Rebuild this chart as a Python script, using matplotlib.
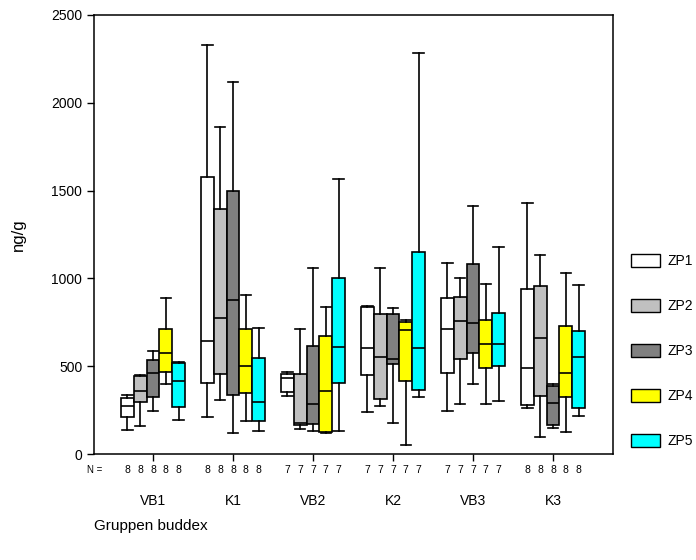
import matplotlib
matplotlib.use('Agg')
import matplotlib.pyplot as plt
from matplotlib.patches import Patch
from matplotlib.transforms import blended_transform_factory

plt.rcParams['font.family'] = ['Liberation Sans', 'DejaVu Sans']

groups = ['VB1', 'K1', 'VB2', 'K2', 'VB3', 'K3']
series = ['ZP1', 'ZP2', 'ZP3', 'ZP4', 'ZP5']
colors = ['#FFFFFF', '#C0C0C0', '#808080', '#FFFF00', '#00FFFF']
n_counts = [8, 8, 7, 7, 7, 8]

# per series: one (whisker low, q1, median, q3, whisker high) per group
zp1 = [(137, 213, 275, 317, 336), (213, 406, 644, 1579, 2329), (330, 351, 435, 456, 465),
       (241, 450, 602, 835, 843), (247, 459, 712, 887, 1086), (260, 279, 488, 938, 1428)]
zp2 = [(159, 298, 361, 444, 450), (308, 456, 773, 1393, 1864), (140, 165, 178, 456, 712),
       (275, 311, 554, 797, 1061), (285, 539, 757, 892, 1000), (95, 330, 662, 957, 1133)]
zp3 = [(247, 326, 459, 535, 588), (118, 336, 877, 1500, 2120), (130, 171, 285, 615, 1061),
       (175, 512, 539, 797, 833), (397, 573, 744, 1080, 1412), (146, 165, 292, 387, 397)]
zp4 = [(397, 469, 573, 712, 887), (188, 345, 501, 712, 904), (120, 125, 361, 674, 835),
       (50, 416, 706, 753, 765), (285, 488, 625, 763, 966), (127, 323, 459, 729, 1029)]
zp5 = [(194, 266, 416, 518, 526), (130, 188, 298, 545, 719), (130, 406, 608, 1000, 1566),
       (326, 364, 602, 1148, 2285), (302, 501, 625, 801, 1177), (216, 262, 550, 700, 960)]
data = [zp1, zp2, zp3, zp4, zp5]

fig = plt.figure(figsize=(6.96, 5.6), dpi=100)
ax = fig.add_axes([94/696, 1-454/560, (613-94)/696, (454-15)/560])

width = 0.16
for k, ser in enumerate(data):
    stats = []
    pos = []
    for g, (lo, q1, med, q3, hi) in enumerate(ser):
        stats.append({'whislo': lo, 'q1': q1, 'med': med, 'q3': q3, 'whishi': hi, 'fliers': []})
        pos.append(g + (k - 2) * width)
    ax.bxp(stats, positions=pos, widths=width, capwidths=0.13, patch_artist=True,
           showfliers=False, manage_ticks=False,
           boxprops=dict(facecolor=colors[k], edgecolor='black', linewidth=1.2),
           medianprops=dict(color='black', linewidth=1.2),
           whiskerprops=dict(color='black', linewidth=1.2),
           capprops=dict(color='black', linewidth=1.2))

ax.set_xlim(-0.7375, 5.75)
ax.set_ylim(0, 2500)
ax.set_yticks([0, 500, 1000, 1500, 2000, 2500])
ax.set_xticks(range(len(groups)))
ax.set_xticklabels(groups)
ax.tick_params(axis='x', length=5, width=1, pad=24, labelsize=10)
ax.tick_params(axis='y', length=5, width=1, labelsize=10)
for s in ax.spines.values():
    s.set_linewidth(1.1)
ax.set_ylabel('ng/g', fontsize=12, labelpad=18)

trans = blended_transform_factory(ax.transData, ax.transAxes)
ax.text(-0.63, -0.0364, 'N =', transform=trans, ha='right', va='center', fontsize=7, clip_on=False)
for g, n in enumerate(n_counts):
    for k in range(len(series)):
        ax.text(g + (k - 2) * width, -0.0364, str(n), transform=trans, ha='center', va='center',
                fontsize=7.5, clip_on=False)

handles = [Patch(facecolor=c, edgecolor='black', linewidth=1.0) for c in colors]
fig.legend(handles, series, loc='center left', bbox_to_anchor=(618/696, 1-351/560), frameon=False,
           fontsize=10, handlelength=2.1, handleheight=1.1, labelspacing=2.2, handletextpad=0.6)

fig.text(94/696, 1-526/560, 'Gruppen buddex', ha='left', va='center', fontsize=11)

fig.savefig('out.png', dpi=100)
